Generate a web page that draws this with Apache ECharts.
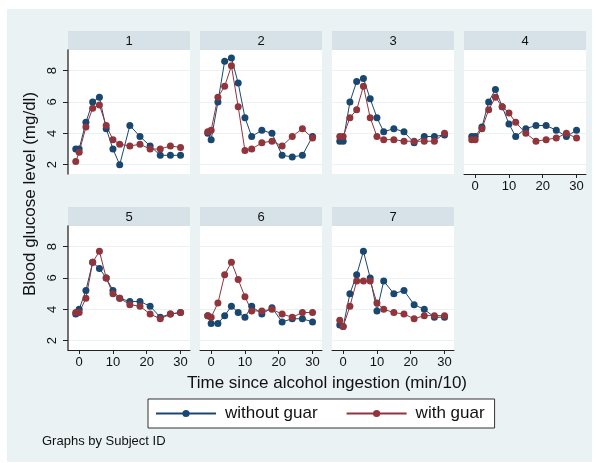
<!DOCTYPE html>
<html>
<head>
<meta charset="utf-8">
<script src="https://cdn.jsdelivr.net/npm/echarts@6/dist/echarts.min.js"></script>
<style>
html,body{margin:0;padding:0;background:#fff;}
#chart{width:599px;height:463px;}
</style>
</head>
<body>
<div id="chart"></div>
<script>
// ---- data ----
var time = [-1, 0, 2, 4, 6, 8, 10, 12, 15, 18, 21, 24, 27, 30];
var subjects = ['1', '2', '3', '4', '5', '6', '7'];
var withoutGuar1 = [3.0, 3.0, 4.7, 6.0, 6.3, 4.3, 3.0, 2.0, 4.5, 3.8, 3.2, 2.6, 2.6, 2.6];
var withGuar1    = [2.2, 2.8, 4.4, 5.6, 5.8, 4.5, 3.6, 3.3, 3.2, 3.3, 3.0, 3.0, 3.2, 3.1];
var withoutGuar2 = [4.0, 3.6, 6.0, 8.6, 8.8, 7.2, 5.0, 3.8, 4.2, 4.0, 2.6, 2.5, 2.6, 3.8];
var withGuar2    = [4.1, 4.2, 6.3, 7.0, 8.3, 5.7, 2.9, 3.0, 3.4, 3.5, 3.2, 3.8, 4.3, 3.7];
var withoutGuar3 = [3.5, 3.5, 6.0, 7.3, 7.5, 6.2, 5.0, 4.1, 4.3, 4.1, 3.4, 3.8, 3.8, 3.9];
var withGuar3    = [3.8, 3.8, 5.0, 5.5, 7.0, 5.0, 3.8, 3.6, 3.6, 3.5, 3.5, 3.5, 3.5, 4.0];
var withoutGuar4 = [3.8, 3.8, 4.4, 6.0, 6.8, 5.7, 4.6, 3.8, 4.3, 4.5, 4.5, 4.2, 3.8, 4.2];
var withGuar4    = [3.6, 3.6, 4.3, 5.5, 6.3, 5.7, 5.3, 4.7, 4.0, 3.5, 3.6, 3.7, 4.0, 3.7];
var withoutGuar5 = [3.7, 4.0, 5.2, 7.0, 6.6, 6.0, 5.2, 4.7, 4.5, 4.5, 4.2, 3.5, 3.7, 3.8];
var withGuar5    = [3.8, 3.8, 4.7, 7.0, 7.7, 6.0, 5.0, 4.7, 4.3, 4.2, 3.7, 3.4, 3.7, 3.8];
var withoutGuar6 = [3.6, 3.1, 3.1, 3.6, 4.2, 3.8, 3.5, 4.2, 3.7, 4.1, 3.2, 3.4, 3.4, 3.2];
var withGuar6    = [3.6, 3.5, 4.4, 6.2, 7.0, 5.9, 4.8, 3.9, 3.9, 4.0, 3.7, 3.5, 3.8, 3.8];
var withoutGuar7 = [3.0, 2.9, 5.0, 6.2, 7.7, 6.0, 3.9, 5.8, 5.0, 5.2, 4.3, 4.0, 3.5, 3.5];
var withGuar7    = [3.3, 2.9, 4.2, 5.8, 5.8, 5.8, 4.4, 4.0, 3.8, 3.7, 3.4, 3.6, 3.6, 3.6];
var yTicks = [2, 4, 6, 8];
var xTicks = [0, 10, 20, 30];
var seriesNames = ['without guar', 'with guar'];
var yTitle = 'Blood glucose level (mg/dl)';
var xTitle = 'Time since alcohol ingestion (min/10)';
var note = 'Graphs by Subject ID';

var withoutAll = [withoutGuar1, withoutGuar2, withoutGuar3, withoutGuar4, withoutGuar5, withoutGuar6, withoutGuar7];
var withAll = [withGuar1, withGuar2, withGuar3, withGuar4, withGuar5, withGuar6, withGuar7];

// ---- layout ----
var FONT = '"Liberation Sans", Arial, Helvetica, sans-serif';
var BLUE = '#1a476f', RED = '#90353b';
var BG = '#eaf2f3', STRIP = '#d6e2e8';
var colLeft = [68, 200, 332, 464], plotW = 122;
var rowTop = [50, 226], plotH = 124, stripH = 19;
var xMin = -3.3, xMax = 32.8, yMin = 1.41, yMax = 9.31;

var grids = [], xAxes = [], yAxes = [], series = [];
var graphics = [
  {type:'rect', shape:{x:7, y:9, width:585, height:453}, style:{fill:BG}, z:-10}
];

subjects.forEach(function (s, i) {
  var r = i < 4 ? 0 : 1, c = i < 4 ? i : i - 4;
  var L = colLeft[c], T = rowTop[r];
  grids.push({left:L, top:T, width:plotW, height:plotH, backgroundColor:'#fff', show:true, borderWidth:0});
  var showX = (i >= 3);
  var showY = (c === 0);
  xAxes.push({
    type:'value', gridIndex:i, min:xMin, max:xMax, interval:10,
    show:showX,
    axisLine:{show:true, onZero:false, lineStyle:{color:'#222', width:1}},
    axisTick:{show:true, length:4, lineStyle:{color:'#222'}, customValues:xTicks},
    axisLabel:{show:true, fontFamily:FONT, fontSize:13, color:'#111', margin:6, customValues:xTicks},
    splitLine:{show:false}
  });
  yAxes.push({
    type:'value', gridIndex:i, min:yMin, max:yMax,
    axisLine:{show:showY, onZero:false, lineStyle:{color:'#444', width:1.5}},
    axisTick:{show:showY, length:5, lineStyle:{color:'#222'}, customValues:yTicks},
    axisLabel:{show:showY, rotate:90, fontFamily:FONT, fontSize:13, color:'#111', margin:9, customValues:yTicks},
    splitLine:{show:true, lineStyle:{color:BG, width:1}, customValues:yTicks}
  });
  series.push({
    type:'line', name:seriesNames[0], xAxisIndex:i, yAxisIndex:i,
    data: time.map(function (t, k) { return [t, withoutAll[i][k]]; }),
    symbol:'circle', symbolSize:7, color:BLUE,
    lineStyle:{color:BLUE, width:1}, itemStyle:{color:BLUE}, animation:false
  });
  series.push({
    type:'line', name:seriesNames[1], xAxisIndex:i, yAxisIndex:i,
    data: time.map(function (t, k) { return [t, withAll[i][k]]; }),
    symbol:'circle', symbolSize:7, color:RED,
    lineStyle:{color:RED, width:1}, itemStyle:{color:RED}, animation:false
  });
  var sTop = T - stripH;
  graphics.push({type:'rect', shape:{x:L, y:sTop, width:plotW, height:stripH}, style:{fill:STRIP}, z:-5});
  graphics.push({type:'text', x:L + plotW / 2, y:sTop + stripH / 2 + 0.5,
    style:{text:s, font:'13px ' + FONT, fill:'#111', textAlign:'center', textVerticalAlign:'middle'}});
});

graphics.push({type:'text', x:30, y:194, rotation:Math.PI / 2,
  style:{text:yTitle, font:'17px ' + FONT, fill:'#111', textAlign:'center', textVerticalAlign:'middle'}});
graphics.push({type:'text', x:327, y:383,
  style:{text:xTitle, font:'17px ' + FONT, fill:'#111', textAlign:'center', textVerticalAlign:'middle'}});
graphics.push({type:'text', x:42, y:441,
  style:{text:note, font:'13px ' + FONT, fill:'#111', textAlign:'left', textVerticalAlign:'middle'}});

var chart = echarts.init(document.getElementById('chart'), null, {renderer:'canvas'});
chart.setOption({
  animation:false,
  backgroundColor:'#fff',
  grid:grids, xAxis:xAxes, yAxis:yAxes, series:series,
  legend:{
    data:seriesNames, left:148, top:399, orient:'horizontal',
    itemWidth:60, itemHeight:9, itemGap:28,
    padding:[6, 10, 6, 7], borderColor:'#333', borderWidth:1, backgroundColor:'#fff',
    textStyle:{fontFamily:FONT, fontSize:17, color:'#111', padding:[0, 0, 0, 4]}
  },
  graphic:graphics
});
</script>
</body>
</html>
